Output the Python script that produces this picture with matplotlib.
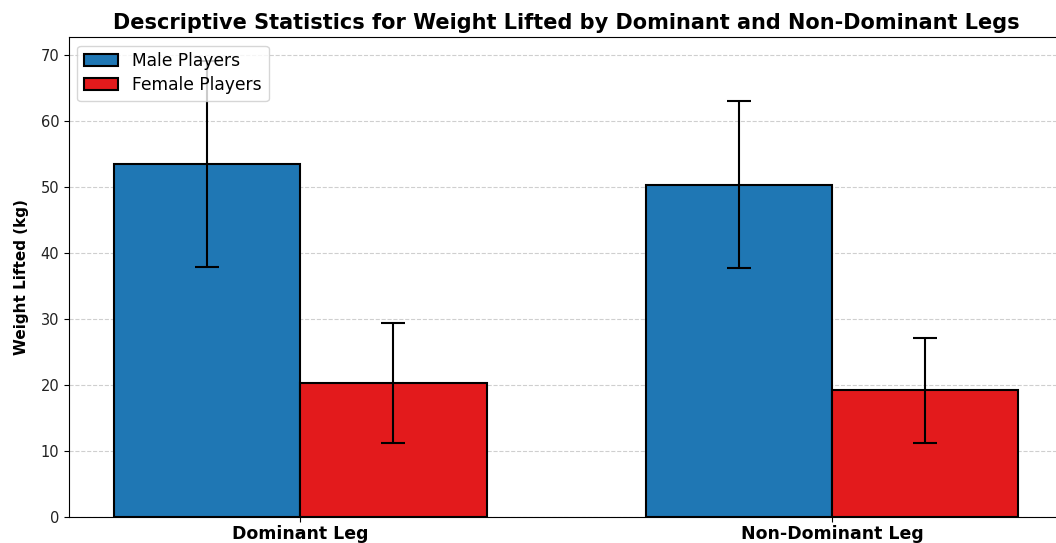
import numpy as np
import matplotlib
matplotlib.use("Agg")
import matplotlib.pyplot as plt

# Descriptive statistics (mean, sd)
legs = ["Dominant Leg", "Non-Dominant Leg"]
male_means = [53.5, 50.4]
male_sds = [15.6, 12.65]
female_means = [20.3, 19.2]
female_sds = [9.1, 8.0]

x = np.arange(len(legs))
width = 0.35

fig = plt.figure(figsize=(10.56, 5.43), dpi=100)
ax = fig.add_axes([0.0653, 0.0479, 0.942, 0.884])

err = dict(elinewidth=1.5, capthick=1.5)
ax.bar(x - width / 2, male_means, width, yerr=male_sds, capsize=8.6,
       color="#1f77b4", edgecolor="black", linewidth=1.5,
       error_kw=err, label="Male Players")
ax.bar(x + width / 2, female_means, width, yerr=female_sds, capsize=8.6,
       color="#e31a1c", edgecolor="black", linewidth=1.5,
       error_kw=err, label="Female Players")

ax.set_xticks(x)
ax.set_xticklabels(legs, fontsize=12.5, fontweight="bold")
ax.tick_params(axis="x", pad=2)
ax.tick_params(axis="y", labelsize=10.5, labelcolor="#222222")
ax.set_ylabel("Weight Lifted (kg)", fontsize=11, fontweight="bold", labelpad=8)
ax.set_title("Descriptive Statistics for Weight Lifted by Dominant and Non-Dominant Legs",
             fontsize=15, fontweight="bold")
ax.set_ylim(0, 72.8)
ax.yaxis.grid(True, linestyle="--", alpha=0.6)
ax.set_axisbelow(True)
ax.legend(loc="upper left", fontsize=12.3, labelspacing=0.35)

fig.savefig("out.png", dpi=100)
